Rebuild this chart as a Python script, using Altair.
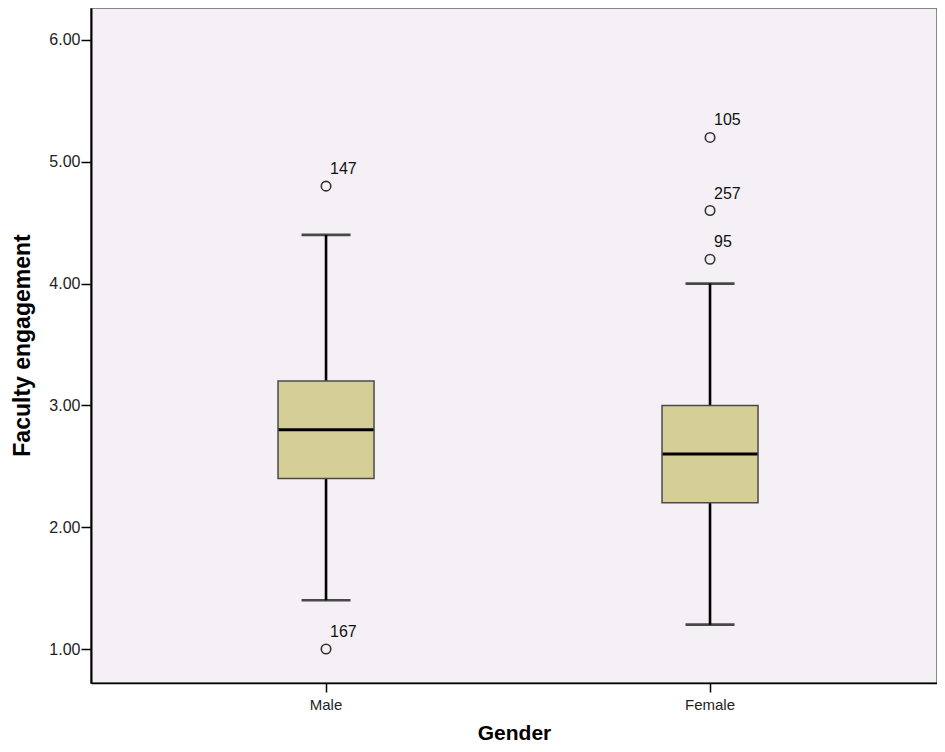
import altair as alt
import pandas as pd

genders = ["Male", "Female"]
lower_whisker = [1.4, 1.2]
q1 = [2.4, 2.2]
median = [2.8, 2.6]
q3 = [3.2, 3.0]
upper_whisker = [4.4, 4.0]

outlier_gender = ["Male", "Male", "Female", "Female", "Female"]
outlier_value = [4.8, 1.0, 5.2, 4.6, 4.2]
outlier_id = ["147", "167", "105", "257", "95"]

y_ticks = [1, 2, 3, 4, 5, 6]

FONT = "Liberation Sans"

stats = pd.DataFrame({
    "gender": genders, "lo": lower_whisker, "q1": q1, "med": median,
    "q3": q3, "hi": upper_whisker,
})
outl = pd.DataFrame({"gender": outlier_gender, "value": outlier_value, "id": outlier_id})

xscale = alt.Scale(domain=genders, paddingInner=0.75, paddingOuter=0.4766, align=0.511)
yscale = alt.Scale(domain=[0.7209, 6.2627], nice=False, zero=False)

x_axis = alt.Axis(
    title="Gender", labelAngle=0, labelFont=FONT, labelFontSize=15, labelColor="#222",
    labelPadding=5, tickColor="#000", tickSize=9, tickWidth=1.5,
    domainColor="#000", domainWidth=1.5,
    titleFont=FONT, titleFontSize=21, titleFontWeight="bold", titleColor="#000",
    titleY=56, titleBaseline="alphabetic",
)
y_axis = alt.Axis(
    title="Faculty engagement", values=y_ticks, format=".2f", grid=False,
    labelFont=FONT, labelFontSize=16, labelColor="#222", labelPadding=1,
    tickColor="#000", tickSize=10, tickWidth=1.5,
    domainColor="#000", domainWidth=2,
    titleFont=FONT, titleFontSize=23, titleFontWeight="bold", titleColor="#000",
    titleX=-62, titleY=337, titleAngle=270, titleAlign="center", titleBaseline="alphabetic",
)

base = alt.Chart(stats)

whisk = base.mark_rule(color="#000", strokeWidth=2.6).encode(
    x=alt.X("gender:N", scale=xscale, axis=x_axis, sort=genders),
    y=alt.Y("lo:Q", scale=yscale, axis=y_axis),
    y2="hi:Q",
)
caps_hi = base.mark_tick(orient="horizontal", size=49, thickness=2.6, color="#000").encode(
    x=alt.X("gender:N", scale=xscale, sort=genders), y=alt.Y("hi:Q", scale=yscale)
)
caps_lo = base.mark_tick(orient="horizontal", size=49, thickness=2.6, color="#000").encode(
    x=alt.X("gender:N", scale=xscale, sort=genders), y=alt.Y("lo:Q", scale=yscale)
)
box = base.mark_bar(color="#D5CE96", stroke="#4a4a4a", strokeWidth=1.5).encode(
    x=alt.X("gender:N", scale=xscale, sort=genders),
    y=alt.Y("q1:Q", scale=yscale), y2="q3:Q",
)
med = base.mark_tick(orient="horizontal", size=95, thickness=3, color="#000", opacity=1).encode(
    x=alt.X("gender:N", scale=xscale, sort=genders), y=alt.Y("med:Q", scale=yscale)
)
pts = alt.Chart(outl).mark_point(
    shape="circle", filled=False, size=90, stroke="#333", strokeWidth=1.6, opacity=1
).encode(
    x=alt.X("gender:N", scale=xscale, sort=genders), y=alt.Y("value:Q", scale=yscale)
)
labels = alt.Chart(outl).mark_text(
    align="left", baseline="alphabetic", dx=4, dy=-12, font=FONT, fontSize=16, color="#111"
).encode(
    x=alt.X("gender:N", scale=xscale, sort=genders), y=alt.Y("value:Q", scale=yscale),
    text="id:N",
)

chart = alt.layer(whisk, caps_hi, caps_lo, box, med, pts, labels).properties(
    width=846, height=675,
    autosize=alt.AutoSizeParams(type="none"),
    padding={"left": 83, "top": 0, "right": 0, "bottom": 61},
    background="#ffffff",
).configure_view(
    fill="#F5F0F5", stroke="#666", strokeWidth=1.5
)

chart.save("out.html", embed_options={"renderer": "svg", "actions": False})
